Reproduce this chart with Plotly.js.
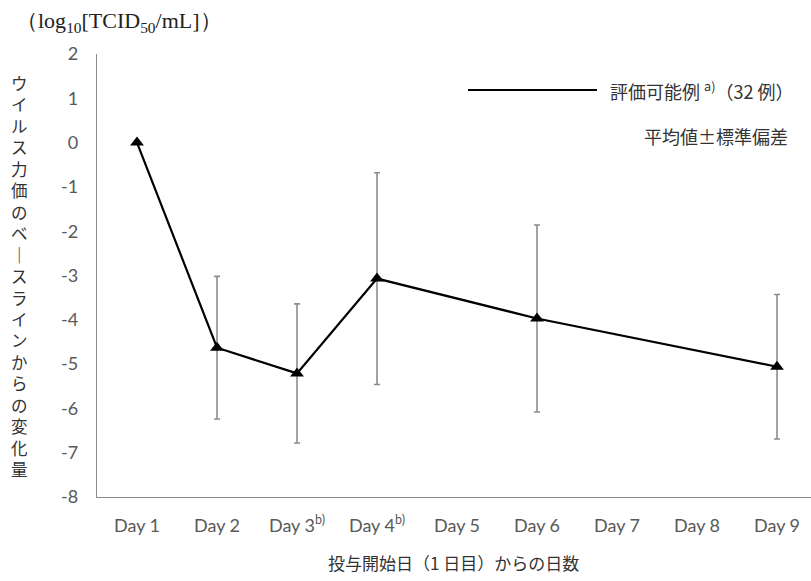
<!DOCTYPE html>
<html><head><meta charset="utf-8">
<script src="https://cdn.plot.ly/plotly-3.0.1.min.js"></script>
<style>body{margin:0;background:#fff}#c{width:811px;height:581px}</style>
</head><body><div id="c"></div>
<script>
const categories = ["Day 1","Day 2","Day 3<sup>b)</sup>","Day 4<sup>b)</sup>","Day 5","Day 6","Day 7","Day 8","Day 9"];
const dayX = ["Day 1","Day 2","Day 3<sup>b)</sup>","Day 4<sup>b)</sup>","Day 6","Day 9"];
const meanChange = [0, -4.63, -5.21, -3.07, -3.97, -5.06];
const sdChange = [0, 1.61, 1.57, 2.39, 2.11, 1.63];
const yTicks = [2,1,0,-1,-2,-3,-4,-5,-6,-7,-8];
const yTickText = ["2","1","0","-1","-2","-3","-4","-5","-6","-7","-8"];
const yTitleChars = ["ウ","イ","ル","ス","力","価","の","ベ","｜","ス","ラ","イ","ン","か","ら","の","変","化","量"];

const trace = {
  x: dayX, y: meanChange, type: "scatter", mode: "lines+markers",
  line: {color: "#000", width: 2.2},
  marker: {symbol: "triangle-up", size: 12, color: "#000"},
  error_y: {type: "data", array: sdChange, visible: true, color: "#8c8c8c", thickness: 1.6, width: 3},
  showlegend: false, cliponaxis: false
};
const tickFont = {family: "Lato, 'Open Sans', sans-serif", size: 18, color: "#595959"};
const jp = "'Noto Sans CJK JP', sans-serif";
const layout = {
  width: 811, height: 581,
  margin: {l: 97, r: 0, t: 54, b: 84},
  paper_bgcolor: "#fff", plot_bgcolor: "#fff",
  xaxis: {type: "category", categoryarray: categories, categoryorder: "array",
    tickvals: categories, range: [-0.5, 8.425], showgrid: false, zeroline: false,
    showline: true, linecolor: "#8c8c8c", linewidth: 1.2, ticks: "", tickfont: tickFont,
    ticklabelstandoff: 12, fixedrange: true},
  yaxis: {range: [-8, 2], tickvals: yTicks, ticktext: yTickText, showgrid: false, zeroline: false,
    showline: true, linecolor: "#8c8c8c", linewidth: 1.2, ticks: "", tickfont: tickFont,
    ticklabelstandoff: 14, fixedrange: true},
  shapes: [{type: "line", xref: "paper", yref: "paper", x0: (468-97)/714, x1: (597-97)/714,
    y0: (581-84-90)/443, y1: (581-84-90)/443, line: {color: "#000", width: 2}}],
  annotations: [
    {xref: "paper", yref: "paper", x: (14-97)/714, y: (581-84-22)/443, xanchor: "left", yanchor: "middle",
     text: "（log<sub>10</sub>[TCID<sub>50</sub>/mL]）", showarrow: false,
     font: {family: "'Liberation Serif', 'DejaVu Serif', serif", size: 22, color: "#222"}},
    {xref: "paper", yref: "paper", x: (608-97)/714, y: (581-84-90)/443, xanchor: "left", yanchor: "middle",
     text: "評価可能例 <sup>a)</sup>（32 例）", showarrow: false,
     font: {family: jp, size: 18, color: "#333"}},
    {xref: "paper", yref: "paper", x: (790-97)/714, y: (581-84-136)/443, xanchor: "right", yanchor: "middle",
     text: "平均値±標準偏差", showarrow: false,
     font: {family: jp, size: 18, color: "#333"}},
    {xref: "paper", yref: "paper", x: (453-97)/714, y: -(562-497)/443, xanchor: "center", yanchor: "middle",
     text: "投与開始日（1 日目）からの日数", showarrow: false,
     font: {family: jp, size: 17, color: "#333"}},
    {xref: "paper", yref: "paper", x: -(97-19)/714, y: (581-84-276)/443, xanchor: "center", yanchor: "middle",
     text: yTitleChars.join("<br>"), showarrow: false, align: "center",
     font: {family: jp, size: 16.5, color: "#333"}}
  ]
};
Plotly.newPlot("c", [trace], layout, {displayModeBar: false, staticPlot: true});
</script></body></html>
